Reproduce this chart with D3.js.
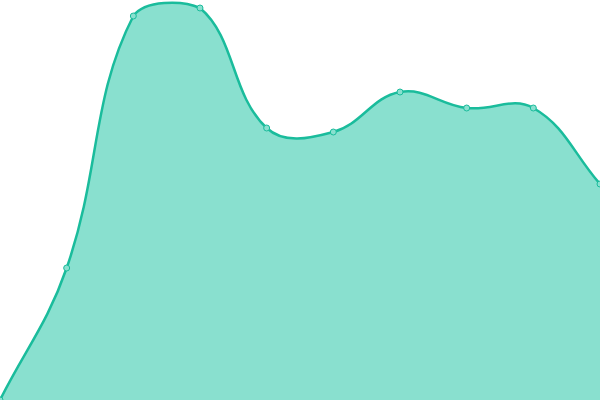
<!DOCTYPE html>
<html>
<head>
<meta charset="utf-8">
<script src="https://cdn.jsdelivr.net/npm/d3@7"></script>
<style>
  html, body { margin: 0; padding: 0; background: #fff; }
  svg { display: block; }
</style>
</head>
<body>
<div id="chart"></div>
<script>
var width = 600, height = 400

// data
var categories = ["1", "2", "3", "4", "5", "6", "7", "8", "9", "10"]
var values = [0, 33, 96, 98, 68, 67, 77, 73, 73, 54]

var x = d3.scalePoint()
  .domain(categories)
  .range([0, width])

var y = d3.scaleLinear()
  .domain([0, 100])
  .range([height, 0])

// spline with tension 0.4, control points kept inside the plot
function TensionCurve(context) { this._context = context }
TensionCurve.prototype = {
  areaStart: function() { this._line = 0 },
  areaEnd: function() { this._line = NaN },
  lineStart: function() { this._x = []; this._y = [] },
  point: function(px, py) { this._x.push(+px); this._y.push(+py) },
  lineEnd: function() {
    var xs = this._x, ys = this._y, n = xs.length, ctx = this._context
    var t = 0.4
    if (n) {
      this._line ? ctx.lineTo(xs[0], ys[0]) : ctx.moveTo(xs[0], ys[0])
      var cp = []
      for (var i = 0; i < n; i++) {
        var pi = i > 0 ? i - 1 : i, ni = i < n - 1 ? i + 1 : i
        var d01 = Math.hypot(xs[i] - xs[pi], ys[i] - ys[pi])
        var d12 = Math.hypot(xs[ni] - xs[i], ys[ni] - ys[i])
        var s01 = d01 / (d01 + d12) || 0, s12 = d12 / (d01 + d12) || 0
        var fa = t * s01, fb = t * s12
        var dx = xs[ni] - xs[pi], dy = ys[ni] - ys[pi]
        cp.push({
          px: clamp(xs[i] - fa * dx, 0, width), py: clamp(ys[i] - fa * dy, 0, height),
          nx: clamp(xs[i] + fb * dx, 0, width), ny: clamp(ys[i] + fb * dy, 0, height)
        })
      }
      for (var j = 1; j < n; j++) {
        ctx.bezierCurveTo(cp[j - 1].nx, cp[j - 1].ny, cp[j].px, cp[j].py, xs[j], ys[j])
      }
    }
    if (this._line || (this._line !== 0 && n === 1)) ctx.closePath()
    this._line = 1 - this._line
    this._x = this._y = null
  }
}
function clamp(v, a, b) { return Math.max(a, Math.min(b, v)) }
var curveTension = function(context) { return new TensionCurve(context) }

var data = categories.map(function(c, i) { return { cat: c, value: values[i] } })

var svg = d3.select("#chart").append("svg")
  .attr("width", width)
  .attr("height", height)

var area = d3.area()
  .x(function(d) { return x(d.cat) })
  .y0(y(0))
  .y1(function(d) { return y(d.value) })
  .curve(curveTension)

var line = d3.line()
  .x(function(d) { return x(d.cat) })
  .y(function(d) { return y(d.value) })
  .curve(curveTension)

svg.append("path")
  .datum(data)
  .attr("d", area)
  .attr("fill", "#89e0cf")

svg.append("path")
  .datum(data)
  .attr("d", line)
  .attr("fill", "none")
  .attr("stroke", "#1abc9c")
  .attr("stroke-width", 2.5)

svg.selectAll("circle")
  .data(data)
  .enter()
  .append("circle")
    .attr("cx", function(d) { return x(d.cat) })
    .attr("cy", function(d) { return y(d.value) })
    .attr("r", 3)
    .attr("fill", "#89e0cf")
    .attr("stroke", "#1abc9c")
    .attr("stroke-width", 1)
</script>
</body>
</html>
